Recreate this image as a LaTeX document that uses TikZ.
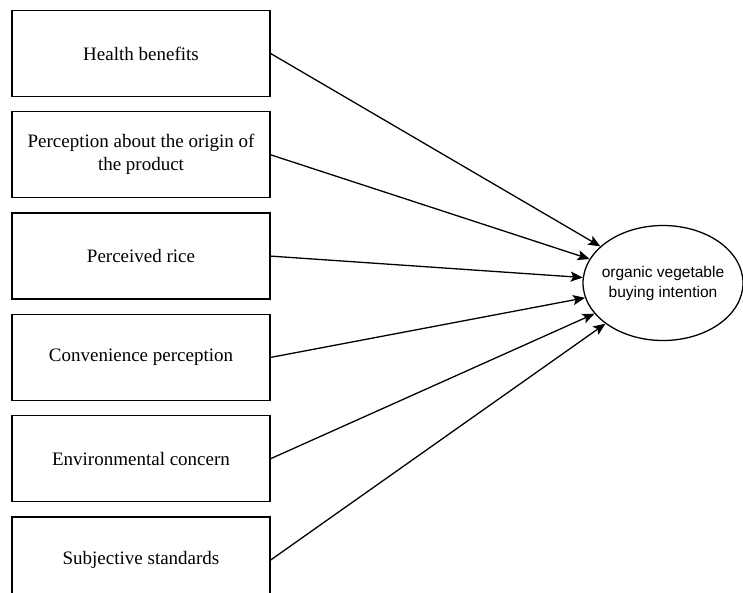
\documentclass[tikz,border=0pt]{standalone}
\usepackage{fontspec}
\setmainfont{Liberation Serif}
\setsansfont{Liberation Sans}
\usepackage{tikz}
\usetikzlibrary{positioning,arrows.meta,shapes.geometric}

\begin{document}
\begin{tikzpicture}[
		node distance=14pt,
		factor/.style={rectangle, draw=black, line width=1.3pt, minimum width=258pt, minimum height=86pt, align=center, font=\fontsize{19}{23}\selectfont},
		target/.style={ellipse, draw=black, line width=1.3pt, inner xsep=-25pt, minimum width=160pt, minimum height=115pt, align=center, font=\sffamily\fontsize{15.5}{20}\selectfont},
		arrow/.style={-{Stealth[length=12pt, width=10pt, inset=2.5pt]}, line width=1.3pt}
		]
		\useasboundingbox (0pt,0pt) rectangle (743pt,-592pt);
		
		%==================== Nodes ====================%
		\node[factor] (health) at (141pt,-53.5pt) {Health benefits};
		\node[factor, below=of health] (origin) {Perception about the origin of\\the product};
		\node[factor, below=of origin] (price) {Perceived rice};
		\node[factor, below=of price] (convenience) {Convenience perception};
		\node[factor, below=of convenience] (environment) {Environmental concern};
		\node[factor, below=of environment] (standards) {Subjective standards};
		
		\node[target] (intention) at (663pt,-283pt) {organic vegetable\\buying intention};
		
		%==================== Arrows ====================%
		\draw[arrow] (health.east) -- (intention);
		\draw[arrow] (origin.east) -- (intention);
		\draw[arrow] (price.east) -- (intention);
		\draw[arrow] (convenience.east) -- (intention);
		\draw[arrow] (environment.east) -- (intention);
		\draw[arrow] (standards.east) -- (intention);
		
	\end{tikzpicture}
\end{document}
